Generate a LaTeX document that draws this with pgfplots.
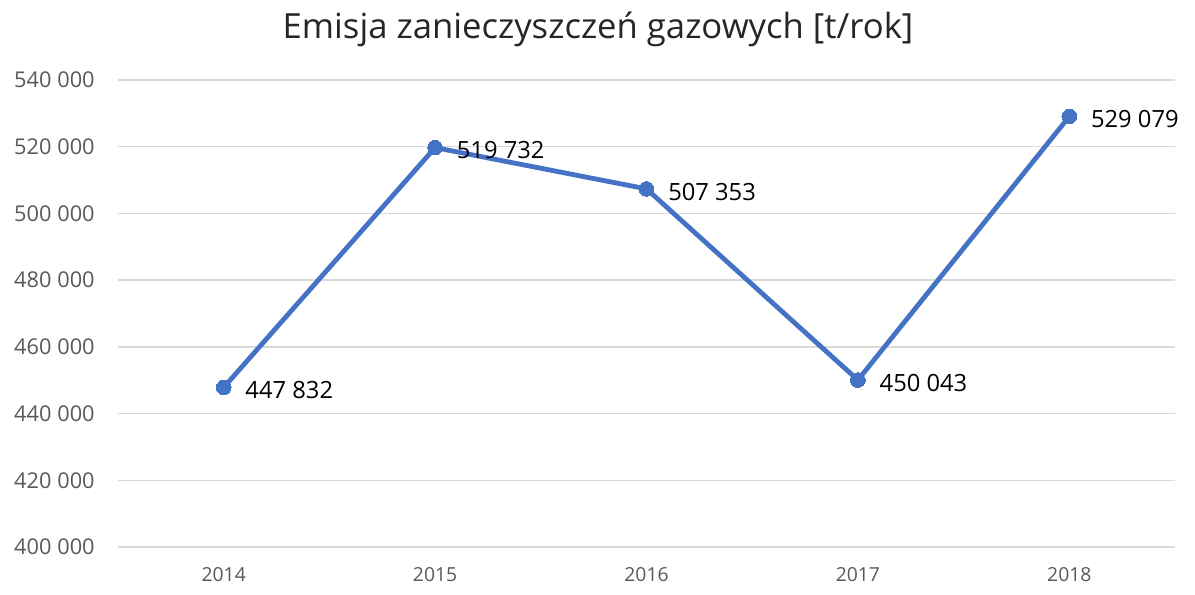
\documentclass[border=0pt]{standalone}
\usepackage{pgfplots}
\pgfplotsset{compat=1.18}
\usepackage{fontspec}
\setmainfont{Open Sans}
\definecolor{lineblue}{HTML}{4472C4}
\definecolor{gridgray}{HTML}{D9D9D9}
\definecolor{ticktext}{HTML}{595959}
\begin{document}
\begin{tikzpicture}
\useasboundingbox (0,0) rectangle (896.25pt,446.25pt);
\node[font=\fontsize{26}{30}\selectfont, text=black!85] at (448.5pt,424pt) {Emisja zanieczyszczeń gazowych [t/rok]};
\begin{axis}[
    at={(88.5pt,36pt)}, anchor=south west,
    width=792.75pt, height=350.25pt,
    scale only axis,
    xmin=-0.5, xmax=4.5,
    ymin=400000, ymax=540000,
    xtick={0,1,2,3,4},
    xticklabels={2014,2015,2016,2017,2018},
    ytick={400000,420000,440000,460000,480000,500000,520000,540000},
    scaled y ticks=false,
    ymajorgrids,
    grid style={gridgray, line width=1.1pt},
    axis line style={draw=none},
    major tick length=0pt,
    tick label style={font=\fontsize{14.5}{16}\selectfont, text=ticktext},
    yticklabel style={font=\fontsize{16.3}{18}\selectfont, xshift=-14pt,
        /pgf/number format/fixed, /pgf/number format/precision=0},
    xticklabel style={yshift=-12pt},
    /pgf/number format/.cd, 1000 sep={\hspace{0.27em}}, assume math mode=true,
]
\addplot[
    lineblue, line width=3.6pt,
    mark=*, mark size=5.5pt, mark options={fill=lineblue, draw=lineblue, line width=0pt},
    point meta=explicit symbolic,
    nodes near coords,
    every node near coord/.append style={anchor=west, xshift=13pt, yshift=-2pt,
        font=\fontsize{17.8}{20}\selectfont, text=black},
] table[meta=lab, col sep=comma] {
x,y,lab
0,447832,447 832
1,519732,519 732
2,507353,507 353
3,450043,450 043
4,529079,529 079
};
\end{axis}
\end{tikzpicture}
\end{document}
